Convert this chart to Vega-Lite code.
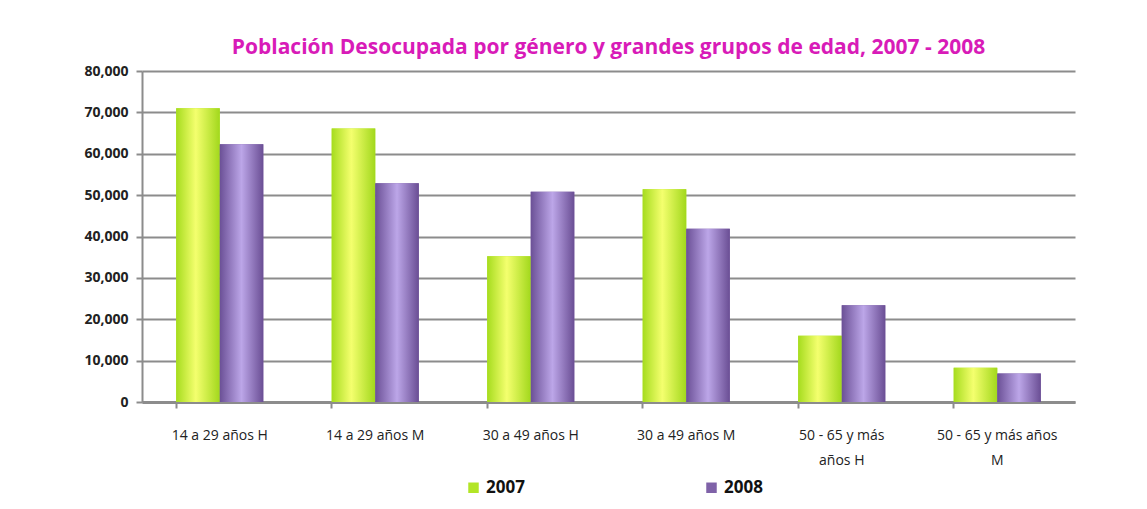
{
  "$schema": "https://vega.github.io/schema/vega-lite/v6.json",
  "autosize": {"type": "fit", "contains": "padding"},
  "width": 1147,
  "height": 509,
  "padding": {"left": 83, "right": 72, "top": 37, "bottom": 42},
  "background": "#ffffff",
  "title": {
    "text": "Población Desocupada por género y grandes grupos de edad, 2007 - 2008",
    "color": "#D81BB8",
    "fontSize": 21,
    "fontWeight": "bold",
    "font": "Open Sans",
    "offset": 6
  },
  "data": {
    "values": [
      {"grupo": "14 a 29 años H", "anio": "2007", "valor": 71000},
      {"grupo": "14 a 29 años H", "anio": "2008", "valor": 62300},
      {"grupo": "14 a 29 años M", "anio": "2007", "valor": 66100},
      {"grupo": "14 a 29 años M", "anio": "2008", "valor": 52900},
      {"grupo": "30 a 49 años H", "anio": "2007", "valor": 35200},
      {"grupo": "30 a 49 años H", "anio": "2008", "valor": 50800},
      {"grupo": "30 a 49 años M", "anio": "2007", "valor": 51400},
      {"grupo": "30 a 49 años M", "anio": "2008", "valor": 41900},
      {"grupo": "50 - 65 y más años H", "anio": "2007", "valor": 16000},
      {"grupo": "50 - 65 y más años H", "anio": "2008", "valor": 23400},
      {"grupo": "50 - 65 y más años M", "anio": "2007", "valor": 8300},
      {"grupo": "50 - 65 y más años M", "anio": "2008", "valor": 6900}
    ]
  },
  "encoding": {
    "x": {
      "field": "grupo",
      "type": "nominal",
      "sort": null,
      "scale": {"paddingInner": 0.44, "paddingOuter": 0.22},
      "axis": {
        "title": null,
        "labelAngle": 0,
        "labelFont": "Open Sans",
        "labelFontSize": 14,
        "labelColor": "#222222",
        "labelPadding": 27,
        "labelLineHeight": 25,
        "labelBaseline": "middle",
        "labelExpr": "datum.label == '50 - 65 y más años H' ? ['50  - 65 y más', 'años H'] : datum.label == '50 - 65 y más años M' ? ['50 - 65 y más años', 'M'] : datum.label",
        "bandPosition": 0,
        "tickColor": "#8c8c8c",
        "tickSize": 6,
        "tickWidth": 2,
        "domainColor": "#8c8c8c",
        "domainWidth": 3,
        "grid": false
      }
    },
    "xOffset": {"field": "anio", "type": "nominal"},
    "y": {
      "field": "valor",
      "type": "quantitative",
      "scale": {"domain": [0, 80000]},
      "axis": {
        "title": null,
        "values": [0, 10000, 20000, 30000, 40000, 50000, 60000, 70000, 80000],
        "labelOverlap": false,
        "format": ",d",
        "labelFont": "Open Sans",
        "labelFontSize": 14,
        "labelFontWeight": "bold",
        "labelColor": "#222222",
        "labelPadding": 8,
        "gridColor": "#8c8c8c",
        "gridWidth": 2,
        "domainColor": "#8c8c8c",
        "domainWidth": 2,
        "tickColor": "#8c8c8c",
        "tickWidth": 2,
        "tickSize": 6
      }
    }
  },
  "layer": [
    {
      "mark": {"type": "bar"},
      "encoding": {
        "color": {
          "field": "anio",
          "type": "nominal",
          "scale": {"domain": ["2007", "2008"], "range": ["#B2E526", "#7F62A8"]},
          "legend": {
            "title": null,
            "orient": "none",
            "legendX": 323,
            "legendY": 408,
            "direction": "horizontal",
            "symbolType": "square",
            "symbolSize": 110,
            "labelFont": "Open Sans",
            "labelFontSize": 17,
            "labelFontWeight": "bold",
            "labelColor": "#111111",
            "columnPadding": 178
          }
        }
      }
    },
    {
      "mark": {"type": "bar"},
      "encoding": {
        "fill": {
          "condition": {
            "test": "datum.anio == '2007'",
            "value": {
              "gradient": "linear", "x1": 0, "x2": 1, "y1": 0, "y2": 0,
              "stops": [
                {"offset": 0, "color": "#A6DC1E"},
                {"offset": 0.45, "color": "#F4FF6E"},
                {"offset": 1, "color": "#A2D81C"}
              ]
            }
          },
          "value": {
            "gradient": "linear", "x1": 0, "x2": 1, "y1": 0, "y2": 0,
            "stops": [
              {"offset": 0, "color": "#6B5096"},
              {"offset": 0.5, "color": "#BCA6E8"},
              {"offset": 1, "color": "#6A4E94"}
            ]
          }
        }
      }
    }
  ],
  "config": {
    "view": {"stroke": null}
  }
}
